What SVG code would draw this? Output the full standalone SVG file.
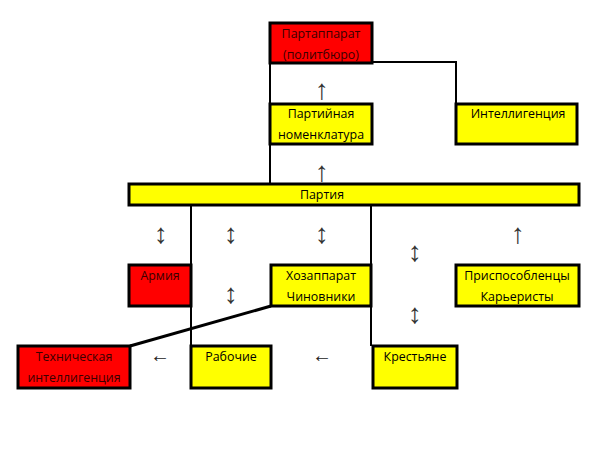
<svg xmlns="http://www.w3.org/2000/svg" width="600" height="450" viewBox="0 0 600 450">
<style>
.b{stroke:#000;stroke-width:3}
.r{fill:#ff0000}
.y{fill:#ffff00}
.t{font-family:"Open Sans","DejaVu Sans",sans-serif;font-size:12.4px;text-anchor:middle;fill:#000}
.rt{fill:#3a0000}
.a{font-family:"Liberation Sans","DejaVu Sans",sans-serif;font-size:28px;text-anchor:middle;fill:#333}
.h{font-family:"Liberation Sans","DejaVu Sans",sans-serif;font-size:20px;text-anchor:middle;fill:#222}
.c{stroke:#000;stroke-width:2;fill:none}
</style>
<rect width="600" height="450" fill="#fff"/>
<g id="connectors">
<polyline class="c" points="372,62 456,62 456,104"/>
<line class="c" x1="270" y1="63" x2="270" y2="184"/>
<line class="c" x1="191" y1="205" x2="191" y2="346"/>
<line class="c" x1="371" y1="205" x2="371" y2="346"/>
<line x1="130" y1="346" x2="271" y2="306" stroke="#000" stroke-width="3"/>
</g>
<g id="arrows">
<text class="a" x="322" y="99">↑︎</text>
<text class="a" x="322" y="181">↑︎</text>
<text class="a" x="161" y="243">↕︎</text>
<text class="a" x="231" y="243">↕︎</text>
<text class="a" x="322" y="243">↕︎</text>
<text class="a" x="518" y="243">↑︎</text>
<text class="a" x="415" y="261">↕︎</text>
<text class="a" x="231" y="303">↕︎</text>
<text class="a" x="415" y="323">↕︎</text>
<text class="h" x="160" y="362">←︎</text>
<text class="h" x="322" y="362">←︎</text>
</g>
<g id="partapparat">
<rect class="b r" x="270" y="23" width="102" height="40"/>
<text class="t rt" x="321" y="38">Партаппарат</text>
<text class="t rt" x="321" y="59">(политбюро)</text>
</g>
<g id="nomenklatura">
<rect class="b y" x="270" y="104" width="102" height="40"/>
<text class="t" x="321" y="118">Партийная</text>
<text class="t" x="321" y="139">номенклатура</text>
</g>
<g id="intelligentsia">
<rect class="b y" x="456" y="104" width="121" height="40"/>
<text class="t" x="518" y="118">Интеллигенция</text>
</g>
<g id="partiya">
<rect class="b y" x="129" y="184" width="450" height="21"/>
<text class="t" x="322" y="199">Партия</text>
</g>
<g id="armiya">
<rect class="b r" x="129" y="265" width="62" height="41"/>
<text class="t rt" x="160" y="280">Армия</text>
</g>
<g id="khozapparat">
<rect class="b y" x="271" y="265" width="100" height="41"/>
<text class="t" x="321" y="280">Хозаппарат</text>
<text class="t" x="321" y="301">Чиновники</text>
</g>
<g id="prisposoblentsy">
<rect class="b y" x="456" y="265" width="123" height="41"/>
<text class="t" x="517" y="280">Приспособленцы</text>
<text class="t" x="517" y="301">Карьеристы</text>
</g>
<g id="tekh-intelligentsia">
<rect class="b r" x="18" y="346" width="112" height="42"/>
<text class="t rt" x="74" y="361">Техническая</text>
<text class="t rt" x="74" y="382">интеллигенция</text>
</g>
<g id="rabochie">
<rect class="b y" x="191" y="346" width="80" height="42"/>
<text class="t" x="231" y="361">Рабочие</text>
</g>
<g id="krestyane">
<rect class="b y" x="373" y="346" width="84" height="42"/>
<text class="t" x="415" y="361">Крестьяне</text>
</g>
</svg>
